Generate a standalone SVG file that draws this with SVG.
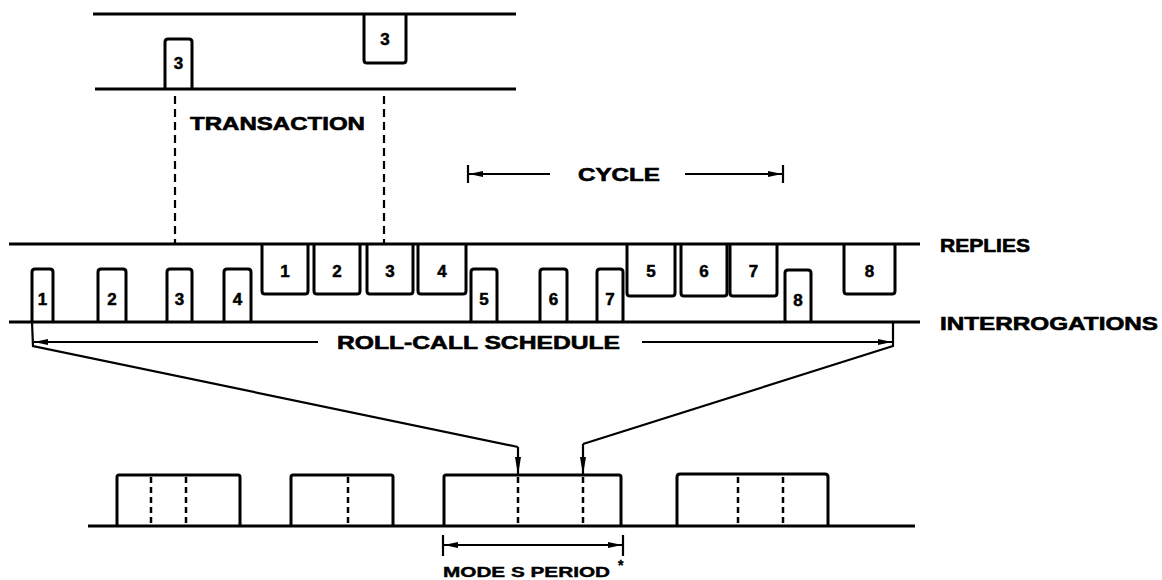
<svg xmlns="http://www.w3.org/2000/svg" width="1162" height="580" viewBox="0 0 1162 580">
<style>
.ln{fill:none;stroke:#000;stroke-width:3;stroke-linejoin:round}
.th{fill:none;stroke:#000;stroke-width:2.2}
.dash{fill:none;stroke:#000;stroke-width:2.2;stroke-dasharray:8 5}
.dsh2{fill:none;stroke:#000;stroke-width:2.5;stroke-dasharray:6 4}
.lbl{font-family:"Liberation Sans",Arial,sans-serif;font-weight:bold;font-size:18px;fill:#000;stroke:#000;stroke-width:0.6}
.num{font-family:"Liberation Sans",Arial,sans-serif;font-weight:bold;font-size:17px;fill:#000;stroke:#000;stroke-width:0.5;text-anchor:middle}
.sm{font-family:"Liberation Sans",Arial,sans-serif;font-weight:bold;font-size:14px;fill:#000;stroke:#000;stroke-width:0.4}
</style>
<defs>
<marker id="arr" viewBox="0 0 14 6" refX="14" refY="3" markerWidth="14" markerHeight="6" markerUnits="userSpaceOnUse" orient="auto">
<path d="M0,0 L14,3 L0,6 Z" fill="#000"/>
</marker>
<marker id="arrv" viewBox="0 0 18 6" refX="18" refY="3" markerWidth="18" markerHeight="6" markerUnits="userSpaceOnUse" orient="auto">
<path d="M0,0 L18,3 L0,6 Z" fill="#000"/>
</marker>
</defs>
<rect width="1162" height="580" fill="#fff"/>

<g id="transaction-detail">
<line class="ln" x1="93" y1="14" x2="516" y2="14"/>
<line class="ln" x1="95" y1="89" x2="516" y2="89"/>
<path class="ln" d="M165,89 V42 Q165,39 168,39 H189 Q192,39 192,42 V89"/>
<text class="num" x="178.5" y="69">3</text>
<path class="ln" d="M364,14 V60 Q364,63 367,63 H403 Q406,63 406,60 V14"/>
<text class="num" x="385" y="45">3</text>
<text class="lbl" x="190" y="130" textLength="175" lengthAdjust="spacingAndGlyphs">TRANSACTION</text>
</g>

<g id="cycle">
<text class="lbl" x="578" y="181" textLength="82" lengthAdjust="spacingAndGlyphs">CYCLE</text>
</g>

<g id="replies-line">
<line class="ln" x1="9" y1="244" x2="920" y2="244"/>
<text class="lbl" x="940" y="252" textLength="90" lengthAdjust="spacingAndGlyphs">REPLIES</text>
</g>
<g id="interrogations-line">
<line class="ln" x1="9" y1="322" x2="920" y2="322"/>
<text class="lbl" x="940" y="330" textLength="218" lengthAdjust="spacingAndGlyphs">INTERROGATIONS</text>
</g>

<g id="interrogations">
<path class="ln" d="M32,322 V272 Q32,269 35,269 H50 Q53,269 53,272 V322"/><text class="num" x="42.5" y="305">1</text>
<path class="ln" d="M98,322 V272 Q98,269 101,269 H123 Q126,269 126,272 V322"/><text class="num" x="112" y="305">2</text>
<path class="ln" d="M167,322 V272 Q167,269 170,269 H189 Q192,269 192,272 V322"/><text class="num" x="179.5" y="305">3</text>
<path class="ln" d="M224,322 V272 Q224,269 227,269 H248 Q251,269 251,272 V322"/><text class="num" x="237.5" y="305">4</text>
<path class="ln" d="M471,322 V272 Q471,269 474,269 H494 Q497,269 497,272 V322"/><text class="num" x="484" y="305">5</text>
<path class="ln" d="M540,322 V272 Q540,269 543,269 H564 Q567,269 567,272 V322"/><text class="num" x="553.5" y="305">6</text>
<path class="ln" d="M597,322 V272 Q597,269 600,269 H620 Q623,269 623,272 V322"/><text class="num" x="610" y="305">7</text>
<path class="ln" d="M785,322 V273 Q785,270 788,270 H808 Q811,270 811,273 V322"/><text class="num" x="798" y="306">8</text>
</g>

<g id="replies">
<path class="ln" d="M262,244 V291 Q262,294 265,294 H305 Q308,294 308,291 V244"/><text class="num" x="285" y="277">1</text>
<path class="ln" d="M314,244 V291 Q314,294 317,294 H357 Q360,294 360,291 V244"/><text class="num" x="337" y="277">2</text>
<path class="ln" d="M367,244 V291 Q367,294 370,294 H410 Q413,294 413,291 V244"/><text class="num" x="390" y="277">3</text>
<path class="ln" d="M418,244 V291 Q418,294 421,294 H463 Q466,294 466,291 V244"/><text class="num" x="442" y="277">4</text>
<path class="ln" d="M627,244 V293 Q627,296 630,296 H672 Q675,296 675,293 V244"/><text class="num" x="651" y="277">5</text>
<path class="ln" d="M681,244 V293 Q681,296 684,296 H724 Q727,296 727,293 V244"/><text class="num" x="704" y="277">6</text>
<path class="ln" d="M730,244 V293 Q730,296 733,296 H774 Q777,296 777,293 V244"/><text class="num" x="753.5" y="277">7</text>
<path class="ln" d="M844,244 V291 Q844,294 847,294 H892 Q895,294 895,291 V244"/><text class="num" x="869.5" y="277">8</text>
</g>

<g id="roll-call">
<text class="lbl" x="337" y="349" textLength="283" lengthAdjust="spacingAndGlyphs">ROLL-CALL SCHEDULE</text>
</g>

<g id="mode-s-timeline">
<line class="ln" x1="88" y1="526" x2="915" y2="526"/>
<path class="ln" d="M117,526 V477 Q117,475 119,475 H238 Q240,475 240,477 V526"/>
<line class="dsh2" x1="151" y1="477" x2="151" y2="526"/>
<line class="dsh2" x1="186" y1="477" x2="186" y2="526"/>
<path class="ln" d="M291,526 V477 Q291,475 293,475 H391 Q393,475 393,477 V526"/>
<line class="dsh2" x1="348" y1="477" x2="348" y2="526"/>
<path class="ln" d="M444,526 V477 Q444,475 446,475 H619 Q621,475 621,477 V526"/>
<line class="dsh2" x1="518" y1="477" x2="518" y2="526"/>
<line class="dsh2" x1="583" y1="477" x2="583" y2="526"/>
<path class="ln" d="M677,526 V477 Q677,474 680,474 H825 Q828,474 828,477 V526"/>
<line class="dsh2" x1="738" y1="477" x2="738" y2="526"/>
<line class="dsh2" x1="783" y1="477" x2="783" y2="526"/>
<text class="sm" x="443" y="577" textLength="167" lengthAdjust="spacingAndGlyphs">MODE S PERIOD</text>
<text class="sm" x="618" y="570">*</text>
</g>

<g id="connectors">
<line class="dash" x1="175" y1="96" x2="175" y2="243"/>
<line class="dash" x1="384" y1="96" x2="384" y2="243"/>
<line class="th" x1="468" y1="165" x2="468" y2="183"/>
<line class="th" x1="550" y1="174" x2="469" y2="174" marker-end="url(#arr)"/>
<line class="th" x1="685" y1="174" x2="782" y2="174" marker-end="url(#arr)"/>
<line class="th" x1="783" y1="165" x2="783" y2="183"/>
<polyline class="th" points="32,322 33,346 518,447"/>
<line class="th" x1="318" y1="342" x2="34" y2="342" marker-end="url(#arr)"/>
<line class="th" x1="518" y1="447" x2="518" y2="475" marker-end="url(#arrv)"/>
<polyline class="th" points="893,322 893,346 583,444"/>
<line class="th" x1="642" y1="342" x2="892" y2="342" marker-end="url(#arr)"/>
<line class="th" x1="583" y1="444" x2="583" y2="475" marker-end="url(#arrv)"/>
<line class="th" x1="443" y1="535" x2="443" y2="556"/>
<line class="th" x1="623" y1="535" x2="623" y2="556"/>
<line class="th" x1="444" y1="545" x2="622" y2="545" marker-end="url(#arr)"/>
<line class="th" x1="622" y1="545" x2="444" y2="545" marker-end="url(#arr)"/>
</g>
</svg>
